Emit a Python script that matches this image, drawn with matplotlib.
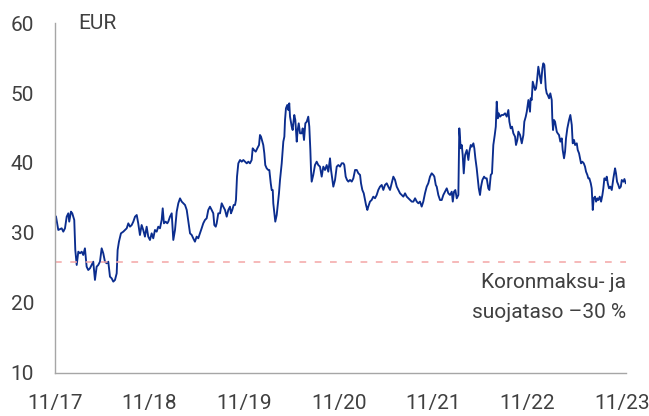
import numpy as np
import pandas as pd
import matplotlib
matplotlib.use("Agg")
import matplotlib.pyplot as plt

plt.rcParams['font.family'] = ['Roboto', 'DejaVu Sans']

# years since 2017-11-01
years = [
    0.011, 0.035, 0.071, 0.088, 0.106, 0.124, 0.141, 0.151, 0.169, 0.183,
    0.204, 0.215, 0.230, 0.247, 0.265, 0.283, 0.299, 0.317, 0.335, 0.352,
    0.370, 0.388, 0.405, 0.423, 0.441, 0.458, 0.476, 0.494, 0.511, 0.529,
    0.547, 0.564, 0.582, 0.600, 0.617, 0.635, 0.653, 0.663, 0.677, 0.698,
    0.723, 0.741, 0.759, 0.776, 0.794, 0.812, 0.829, 0.847, 0.865, 0.881,
    0.899, 0.917, 0.934, 0.952, 0.970, 0.987, 1.005, 1.023, 1.040, 1.058,
    1.076, 1.093, 1.111, 1.129, 1.140, 1.153, 1.171, 1.188, 1.199, 1.217,
    1.235, 1.252, 1.270, 1.288, 1.305, 1.323, 1.341, 1.358, 1.376, 1.394,
    1.411, 1.429, 1.447, 1.463, 1.481, 1.499, 1.516, 1.534, 1.552, 1.569,
    1.587, 1.605, 1.622, 1.640, 1.658, 1.675, 1.686, 1.701, 1.711, 1.728,
    1.746, 1.764, 1.781, 1.799, 1.817, 1.834, 1.852, 1.862, 1.876, 1.891,
    1.905, 1.915, 1.926, 1.940, 1.958, 1.976, 1.993, 2.011, 2.029, 2.046,
    2.063, 2.081, 2.092, 2.106, 2.124, 2.141, 2.159, 2.169, 2.180, 2.194,
    2.204, 2.215, 2.225, 2.240, 2.257, 2.268, 2.283, 2.293, 2.304, 2.310,
    2.321, 2.331, 2.346, 2.357, 2.370, 2.381, 2.399, 2.410, 2.416, 2.427,
    2.434, 2.444, 2.458, 2.469, 2.479, 2.487, 2.505, 2.515, 2.522, 2.532,
    2.543, 2.558, 2.568, 2.579, 2.593, 2.611, 2.621, 2.635, 2.649, 2.664,
    2.680, 2.691, 2.702, 2.709, 2.716, 2.733, 2.751, 2.769, 2.786, 2.804,
    2.822, 2.839, 2.857, 2.875, 2.892, 2.910, 2.921, 2.931, 2.945, 2.963,
    2.981, 2.998, 3.016, 3.034, 3.051, 3.061, 3.076, 3.090, 3.104, 3.122,
    3.140, 3.157, 3.175, 3.193, 3.210, 3.228, 3.238, 3.252, 3.267, 3.280,
    3.291, 3.305, 3.315, 3.333, 3.351, 3.368, 3.386, 3.404, 3.421, 3.439,
    3.457, 3.474, 3.492, 3.510, 3.527, 3.545, 3.563, 3.580, 3.598, 3.616,
    3.633, 3.651, 3.669, 3.686, 3.704, 3.722, 3.739, 3.757, 3.775, 3.792,
    3.810, 3.828, 3.845, 3.862, 3.880, 3.897, 3.915, 3.933, 3.950, 3.968,
    3.986, 4.003, 4.014, 4.029, 4.039, 4.056, 4.074, 4.092, 4.109, 4.127,
    4.145, 4.162, 4.180, 4.198, 4.209, 4.222, 4.236, 4.251, 4.268, 4.278,
    4.293, 4.304, 4.314, 4.325, 4.339, 4.357, 4.374, 4.384, 4.399, 4.410,
    4.427, 4.437, 4.448, 4.462, 4.473, 4.484, 4.497, 4.508, 4.522, 4.540,
    4.554, 4.568, 4.585, 4.596, 4.611, 4.624, 4.638, 4.653, 4.664, 4.674,
    4.685, 4.695, 4.709, 4.727, 4.744, 4.762, 4.780, 4.797, 4.808, 4.822,
    4.836, 4.850, 4.868, 4.878, 4.892, 4.903, 4.921, 4.939, 4.956, 4.966,
    4.981, 4.992, 5.009, 5.026, 5.033, 5.044, 5.055, 5.069, 5.079, 5.090,
    5.101, 5.114, 5.129, 5.143, 5.157, 5.167, 5.178, 5.193, 5.203, 5.214,
    5.228, 5.241, 5.256, 5.262, 5.270, 5.280, 5.291, 5.309, 5.319, 5.333,
    5.347, 5.362, 5.372, 5.386, 5.397, 5.407, 5.421, 5.439, 5.453, 5.468,
    5.478, 5.492, 5.503, 5.521, 5.531, 5.545, 5.556, 5.566, 5.580, 5.595,
    5.608, 5.619, 5.633, 5.643, 5.654, 5.669, 5.679, 5.690, 5.700, 5.714,
    5.725, 5.739, 5.749, 5.764, 5.778, 5.792, 5.802, 5.813, 5.828, 5.838,
    5.849, 5.862, 5.876, 5.891, 5.908, 5.926, 5.936, 5.947, 5.961, 5.972,
    5.987, 5.997, 6.014, 6.025, 6.039, 6.050,
]

price = [
    32.33, 30.43, 30.67, 30.19, 30.67, 32.33, 32.81, 31.62, 33.05, 32.81,
    31.86, 27.57, 25.43, 27.33, 27.10, 27.33, 26.86, 27.81, 25.19, 24.71,
    24.95, 25.43, 25.90, 23.29, 25.19, 25.43, 25.90, 27.81, 27.10, 25.90,
    25.67, 25.90, 23.76, 23.52, 23.05, 23.29, 24.24, 27.57, 28.76, 29.95,
    30.19, 30.43, 30.67, 31.38, 30.90, 31.14, 31.62, 32.33, 32.57, 31.38,
    29.71, 31.14, 30.43, 29.48, 30.90, 29.48, 29.00, 29.95, 29.24, 30.43,
    30.19, 30.90, 30.67, 31.86, 33.52, 31.38, 31.62, 31.38, 31.62, 32.33,
    32.81, 29.00, 30.43, 33.05, 34.24, 34.95, 34.48, 34.24, 34.00, 33.29,
    31.62, 29.95, 29.71, 29.24, 28.76, 29.48, 29.24, 29.95, 30.67, 31.38,
    31.86, 32.10, 33.29, 33.76, 33.29, 32.81, 31.14, 30.90, 31.38, 32.81,
    32.81, 34.24, 33.76, 33.29, 32.33, 33.29, 33.76, 32.81, 33.29, 34.00,
    34.00, 34.71, 38.05, 39.95, 40.43, 40.19, 40.43, 40.19, 39.95, 40.19,
    39.95, 40.43, 42.10, 41.86, 41.62, 42.10, 42.57, 44.00, 43.76, 43.05,
    42.57, 41.38, 39.71, 39.24, 39.00, 39.00, 37.10, 36.14, 36.14, 34.24,
    32.81, 31.62, 32.57, 34.00, 35.67, 37.57, 39.95, 42.10, 43.05, 43.76,
    46.14, 47.81, 48.29, 47.57, 48.52, 46.62, 45.19, 44.71, 45.67, 46.86,
    46.14, 43.05, 44.71, 45.67, 44.24, 44.24, 44.95, 43.29, 45.67, 45.90,
    46.62, 45.19, 41.86, 39.00, 37.33, 38.29, 39.71, 40.19, 39.71, 39.48,
    38.05, 39.48, 39.00, 39.71, 38.76, 40.67, 39.00, 38.05, 36.62, 37.57,
    39.48, 39.71, 39.48, 39.96, 39.96, 39.72, 38.05, 37.58, 37.34, 37.58,
    37.34, 37.81, 39.00, 39.00, 38.53, 38.29, 37.10, 36.15, 35.67, 34.72,
    34.00, 33.29, 33.77, 34.48, 34.72, 35.19, 34.96, 35.43, 36.15, 36.62,
    36.86, 36.15, 36.86, 37.10, 36.62, 36.15, 37.10, 38.05, 37.58, 36.62,
    36.15, 35.67, 35.43, 35.19, 35.67, 35.19, 34.96, 34.72, 34.48, 34.48,
    34.96, 34.48, 34.24, 34.48, 33.77, 34.48, 35.67, 36.62, 37.10, 38.05,
    38.53, 38.29, 38.05, 36.86, 36.62, 35.43, 34.71, 34.71, 35.43, 35.90,
    36.38, 35.67, 35.43, 35.90, 34.48, 35.90, 36.14, 34.95, 35.43, 44.95,
    42.10, 42.57, 41.14, 38.52, 41.14, 41.86, 40.43, 41.62, 42.57, 42.33,
    42.81, 42.10, 40.67, 39.24, 37.81, 36.38, 35.43, 36.62, 37.57, 38.05,
    37.81, 37.81, 36.38, 36.14, 38.29, 38.52, 42.57, 44.00, 45.19, 48.76,
    46.38, 47.10, 46.62, 46.86, 46.86, 47.10, 46.62, 47.57, 45.90, 44.95,
    45.19, 44.24, 43.76, 42.57, 43.29, 44.48, 44.00, 42.81, 44.00, 45.90,
    46.62, 47.33, 49.00, 47.33, 49.24, 49.00, 51.62, 50.90, 50.43, 50.67,
    51.86, 53.76, 52.57, 51.38, 53.52, 54.24, 54.00, 50.67, 49.95, 49.71,
    49.24, 49.95, 49.00, 46.38, 44.71, 46.14, 45.90, 44.48, 44.24, 44.00,
    43.05, 43.52, 41.86, 40.67, 41.62, 43.52, 44.95, 46.14, 46.86, 45.43,
    42.81, 43.29, 42.57, 42.81, 41.86, 41.38, 40.67, 39.95, 40.19, 39.95,
    39.48, 38.76, 38.29, 37.81, 37.81, 37.10, 36.38, 33.29, 34.95, 35.19,
    34.48, 34.95, 34.71, 35.19, 34.48, 35.43, 36.38, 37.81, 37.57, 38.05,
    37.10, 36.38, 36.62, 36.14, 37.81, 39.24, 38.52, 37.33, 36.86, 36.38,
    36.62, 37.57, 37.33, 37.71, 37.10, 37.33,
]

hedge_level = 25.9
tick_labels = ['11/17', '11/18', '11/19', '11/20', '11/21', '11/22', '11/23']
y_ticks = [10, 20, 30, 40, 50, 60]
unit_label = 'EUR'
note_lines = ['Koronmaksu- ja', 'suojataso \u201330 %']

start = pd.Timestamp('2017-11-01')
dates = start + pd.to_timedelta(np.array(years) * 365.25, unit='D')
tick_dates = [start + pd.DateOffset(years=i) for i in range(len(tick_labels))]

text_color = '#404040'
line_color = '#0b2d8e'

fig = plt.figure(figsize=(6.49, 4.16), dpi=100)
ax = fig.add_axes([0.0847, 0.1034, 0.8799, 0.8413])

ax.plot(dates, price, color=line_color, lw=1.35, solid_joinstyle='round')
ax.axhline(hedge_level, color='#f4a6a6', lw=1.1, dashes=(4.4, 5.6))

ax.set_ylim(10, 60)
ax.set_xlim(start, start + pd.to_timedelta(6.042 * 365.25, unit='D'))
ax.set_yticks(y_ticks)
ax.set_yticklabels([str(v) for v in y_ticks])
ax.set_xticks(tick_dates)
ax.set_xticklabels(tick_labels)
ax.tick_params(axis='both', length=0, labelsize=15, colors=text_color)
ax.tick_params(axis='y', pad=15)
ax.tick_params(axis='x', pad=15)

for s in ['top', 'right']:
    ax.spines[s].set_visible(False)
for s in ['left', 'bottom']:
    ax.spines[s].set_color('#a6a6a6')
    ax.spines[s].set_linewidth(1.0)

ax.text(0.04, 1.0, unit_label, transform=ax.transAxes, ha='left', va='center',
        fontsize=15, color=text_color)

ax.text(1.0, 22.86, note_lines[0], transform=ax.get_yaxis_transform(),
        ha='right', va='center', fontsize=15, color=text_color)
ax.text(1.0, 18.7, note_lines[1], transform=ax.get_yaxis_transform(),
        ha='right', va='center', fontsize=15, color=text_color)

fig.savefig('out.png', dpi=100)
